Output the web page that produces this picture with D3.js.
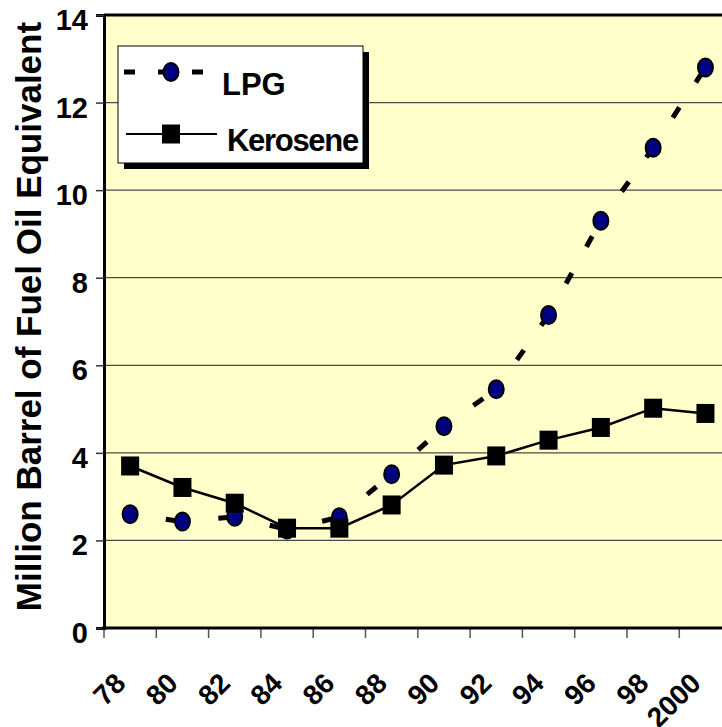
<!DOCTYPE html>
<html>
<head>
<meta charset="utf-8">
<script src="https://cdn.jsdelivr.net/npm/d3@7"></script>
<style>
  body { margin: 0; background: #fff; }
  svg text { font-family: "Liberation Sans", Arial, sans-serif; font-weight: bold; fill: #000; }
</style>
</head>
<body>
<svg id="chart" width="722" height="727"></svg>
<script>
// Fuel consumption, million barrels of fuel oil equivalent
const years = ["78", "80", "82", "84", "86", "88", "90", "92", "94", "96", "98", "2000"];
const lpg = [2.6, 2.43, 2.54, 2.25, 2.53, 3.51, 4.61, 5.45, 7.15, 9.3, 10.97, 12.8];
const kerosene = [3.7, 3.21, 2.85, 2.28, 2.28, 2.81, 3.72, 3.93, 4.29, 4.58, 5.02, 4.9];
const yTicks = [0, 2, 4, 6, 8, 10, 12, 14];
const yTitle = "Million Barrel of Fuel Oil Equivalent";
const seriesNames = ["LPG", "Kerosene"];

const svg = d3.select("#chart");
const plotLeft = 104, plotTop = 15, plotBottom = 628, band = 52.3;
const plotRight = plotLeft + band * years.length;

const x = d3.scaleBand().domain(years).range([plotLeft, plotRight]).padding(0);
const y = d3.scaleLinear().domain([0, 14]).range([plotBottom, plotTop]);
const cx = d => x(d) + x.bandwidth() / 2;

// plot background
svg.append("rect")
  .attr("x", plotLeft).attr("y", plotTop)
  .attr("width", plotRight - plotLeft).attr("height", plotBottom - plotTop)
  .attr("fill", "#FFFFCC");

// horizontal gridlines
svg.append("g").selectAll("line")
  .data(yTicks.filter(v => v > 0 && v < 14))
  .join("line")
  .attr("x1", plotLeft).attr("x2", plotRight)
  .attr("y1", d => y(d)).attr("y2", d => y(d))
  .attr("stroke", "#4a4a4a").attr("stroke-width", 1.2);

// top border of plot area
svg.append("line")
  .attr("x1", plotLeft).attr("x2", plotRight)
  .attr("y1", plotTop).attr("y2", plotTop)
  .attr("stroke", "#000").attr("stroke-width", 3);

// y axis
const yAxis = svg.append("g")
  .attr("transform", `translate(${plotLeft},0)`)
  .call(d3.axisLeft(y).tickValues(yTicks).tickSize(8).tickPadding(8));
yAxis.select(".domain").attr("stroke", "#000").attr("stroke-width", 3);
yAxis.selectAll(".tick line").attr("stroke", "#333").attr("stroke-width", 1.5);
yAxis.selectAll(".tick text")
  .attr("font-size", 29).attr("dy", "0.5em")
  .style("font-family", "'Liberation Sans', Arial, sans-serif").style("font-weight", "bold");

// x axis: category labels
const xAxis = svg.append("g")
  .attr("transform", `translate(0,${plotBottom})`)
  .call(d3.axisBottom(x).tickSize(0).tickPadding(0));
xAxis.select(".domain").remove();
xAxis.selectAll(".tick text")
  .attr("font-size", 28)
  .attr("text-anchor", "end")
  .attr("y", 0).attr("dy", 0)
  .attr("transform", "translate(-3,57) rotate(-45)")
  .style("font-family", "'Liberation Sans', Arial, sans-serif").style("font-weight", "bold");

// x axis tick marks between categories
svg.append("g").selectAll("line")
  .data(years)
  .join("line")
  .attr("x1", d => x(d)).attr("x2", d => x(d))
  .attr("y1", plotBottom).attr("y2", plotBottom + 10)
  .attr("stroke", "#555").attr("stroke-width", 1.5);

// x axis line
svg.append("line")
  .attr("x1", plotLeft - 1.5).attr("x2", plotRight)
  .attr("y1", plotBottom).attr("y2", plotBottom)
  .attr("stroke", "#000").attr("stroke-width", 3);

// y axis title
svg.append("text")
  .attr("transform", `translate(41,${(plotTop + plotBottom) / 2 - 5}) rotate(-90)`)
  .attr("text-anchor", "middle")
  .attr("font-size", 35)
  .text(yTitle);

// LPG: dashed line, dash pattern restarting on each segment
const lpgPts = years.map((c, i) => [cx(c), y(lpg[i])]);
svg.append("g").selectAll("line")
  .data(d3.pairs(lpgPts))
  .join("line")
  .attr("x1", d => d[0][0]).attr("y1", d => d[0][1])
  .attr("x2", d => d[1][0]).attr("y2", d => d[1][1])
  .attr("stroke", "#000").attr("stroke-width", 5)
  .attr("stroke-dasharray", "12,30").attr("stroke-dashoffset", 6);
svg.append("g").selectAll("ellipse")
  .data(lpgPts)
  .join("ellipse")
  .attr("cx", d => d[0]).attr("cy", d => d[1])
  .attr("rx", 7.5).attr("ry", 9)
  .attr("fill", "#000080").attr("stroke", "#000").attr("stroke-width", 2);

// Kerosene: solid line with square markers
const kerPts = years.map((c, i) => [cx(c), y(kerosene[i])]);
svg.append("path")
  .datum(kerPts)
  .attr("d", d3.line())
  .attr("fill", "none").attr("stroke", "#000").attr("stroke-width", 2.5);
svg.append("g").selectAll("rect")
  .data(kerPts)
  .join("rect")
  .attr("x", d => d[0] - 9).attr("y", d => d[1] - 9.5)
  .attr("width", 18).attr("height", 19)
  .attr("fill", "#000");

// legend
const lg = svg.append("g");
lg.append("rect").attr("x", 124).attr("y", 52).attr("width", 245).attr("height", 117).attr("fill", "#000");
lg.append("rect").attr("x", 118).attr("y", 46).attr("width", 245).attr("height", 117)
  .attr("fill", "#fff").attr("stroke", "#000").attr("stroke-width", 1);
lg.append("line").attr("x1", 124).attr("x2", 204).attr("y1", 72).attr("y2", 72)
  .attr("stroke", "#000").attr("stroke-width", 5).attr("stroke-dasharray", "11,23");
lg.append("ellipse").attr("cx", 171).attr("cy", 72).attr("rx", 7.5).attr("ry", 9)
  .attr("fill", "#000080").attr("stroke", "#000").attr("stroke-width", 2);
lg.append("text").attr("x", 222).attr("y", 95).attr("font-size", 31)
  .attr("letter-spacing", 0).text(seriesNames[0]);
lg.append("line").attr("x1", 126).attr("x2", 217).attr("y1", 134).attr("y2", 134)
  .attr("stroke", "#000").attr("stroke-width", 2.2);
lg.append("rect").attr("x", 162).attr("y", 124.5).attr("width", 18).attr("height", 19).attr("fill", "#000");
lg.append("text").attr("x", 227).attr("y", 151).attr("font-size", 31)
  .attr("letter-spacing", -1.3).text(seriesNames[1]);
</script>
</body>
</html>
